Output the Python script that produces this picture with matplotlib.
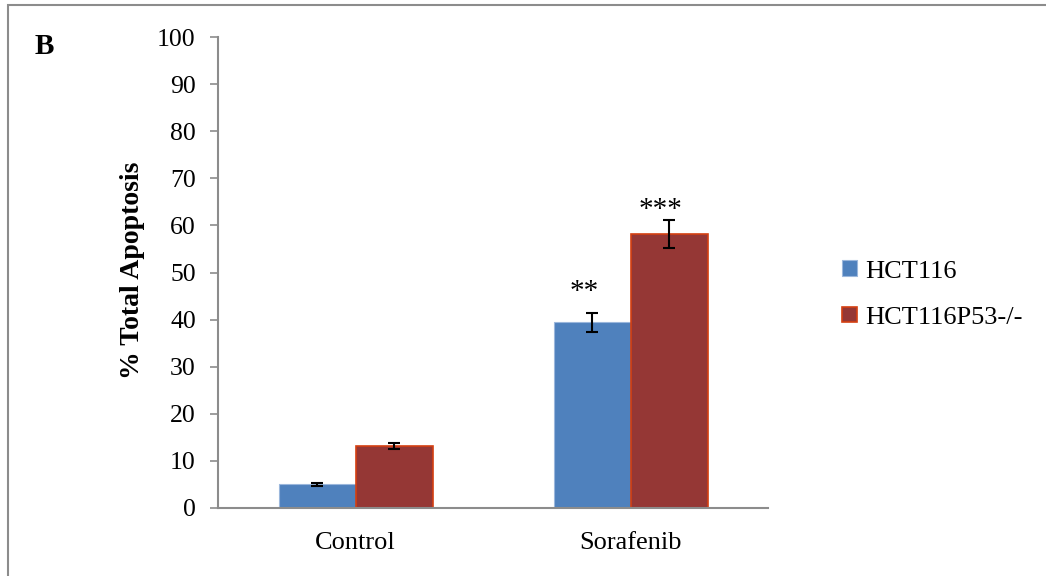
import numpy as np
import matplotlib.pyplot as plt
from matplotlib.patches import Rectangle

categories = ['Control', 'Sorafenib']
hct116 = [5.0, 39.4]
hct116_err = [0.3, 2.0]
p53 = [13.1, 58.2]
p53_err = [0.6, 3.0]
stars_hct = ['', '**']
stars_p53 = ['', '***']

plt.rcParams['font.family'] = ['Liberation Serif', 'DejaVu Serif']

fig = plt.figure(figsize=(10.46, 5.76), dpi=100)
ax = fig.add_axes([218 / 1046, 68 / 576, 550 / 1046, 471 / 576])

# frame around whole figure (only left/top visible in the original)
fig.patches.append(Rectangle((8 / 1046, -0.1), 1.2, 0.1 + 571 / 576,
                             transform=fig.transFigure, fill=False,
                             edgecolor='#8c8c8c', linewidth=1.5))

x = np.arange(len(categories))
w = 0.28
ax.bar(x - w / 2, hct116, w, color='#4f81bd', edgecolor='#9bb7dc',
       linewidth=0.8, label='HCT116')
ax.bar(x + w / 2, p53, w, color='#953735', edgecolor='#d44012',
       linewidth=1.2, label='HCT116P53-/-')
ax.errorbar(x - w / 2, hct116, yerr=hct116_err, fmt='none', ecolor='black',
            elinewidth=1.5, capsize=4.5, capthick=1.5)
ax.errorbar(x + w / 2, p53, yerr=p53_err, fmt='none', ecolor='black',
            elinewidth=1.5, capsize=4.5, capthick=1.5)

for i in range(len(categories)):
    if stars_hct[i]:
        ax.text(x[i] - w / 2 - 0.03, 44.3, stars_hct[i], ha='center',
                va='baseline', fontsize=21)
    if stars_p53[i]:
        ax.text(x[i] + w / 2 - 0.03, 61.7, stars_p53[i], ha='center',
                va='baseline', fontsize=21)

ax.set_xlim(-0.5, 1.5)
ax.set_ylim(0, 100)
ax.set_yticks(np.arange(0, 101, 10))
ax.set_xticks(x)
ax.set_xticklabels(categories, fontsize=19)
ax.tick_params(axis='y', labelsize=18.5, length=6, width=1.2, color='#8c8c8c',
               direction='out', pad=10)
ax.tick_params(axis='x', length=0, pad=17)
for s in ['top', 'right']:
    ax.spines[s].set_visible(False)
for s in ['left', 'bottom']:
    ax.spines[s].set_color('#8c8c8c')
    ax.spines[s].set_linewidth(1.5)

ax.set_ylabel('% Total Apoptosis', fontsize=20, fontweight='bold')
ax.yaxis.set_label_coords(-0.133, 0.505)
fig.text(44 / 1046, 1 - 46 / 576, 'B', fontsize=21, fontweight='bold',
         ha='center', va='center')

ax.legend(loc='center left', bbox_to_anchor=(1.092, 0.453), frameon=False,
          fontsize=19, handlelength=0.55, handleheight=0.55, handletextpad=0.3,
          labelspacing=0.9)

fig.savefig('out.png', dpi=100)
